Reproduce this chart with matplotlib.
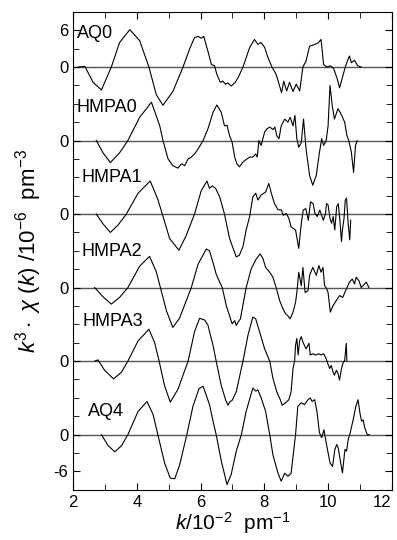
import numpy as np
import matplotlib
matplotlib.use("Agg")
import matplotlib.pyplot as plt
from matplotlib.ticker import MultipleLocator, FixedLocator

# series names and vertical offsets (in units of 10^-6 pm^-3)
names = ["AQ0", "HMPA0", "HMPA1", "HMPA2", "HMPA3", "AQ4"]
offsets = [60, 48, 36, 24, 12, 0]

# k (10^-2 pm^-1) and k^3 chi(k)
k_aq0 = [2.16, 2.37, 2.63, 2.89, 3.20, 3.46, 3.78, 4.09, 4.38, 4.61, 4.82, 5.13, 5.45,
         5.66, 5.81, 5.92, 6.02, 6.10, 6.23, 6.34, 6.44, 6.51, 6.62, 6.70, 6.78, 6.86,
         6.96, 7.09, 7.19, 7.33, 7.45, 7.54, 7.69, 7.80, 7.90, 8.01, 8.11, 8.24, 8.37,
         8.48, 8.54, 8.61, 8.70, 8.79, 8.90, 9.00, 9.11, 9.21, 9.31, 9.42, 9.54, 9.68,
         9.78, 9.86, 9.96, 10.07, 10.17, 10.28, 10.36, 10.46, 10.54, 10.62, 10.67,
         10.73, 10.83, 10.93, 11.04]
chi_aq0 = [0, 0.1, -2.5, -3.75, 0, 4.0, 6.1, 4.3, 0, -4.5, -6.25, -4.0, 0,
           3.0, 4.8, 5.0, 4.7, 5.0, 2.6, 0.4, 0.2, -1.2, -2.5, -2.3, -2.8, -2.6,
           -3.1, -2.5, -1.6, 0, 1.8, 3.2, 4.5, 3.7, 4.0, 3.2, 1.6, 0, -1.2,
           -3.1, -4.2, -2.3, -3.9, -2.5, -4.0, -2.8, -3.9, 0, 1.0, 3.4, 3.6, 3.9,
           4.5, 0.4, 0, 0.2, -0.2, -1.8, -3.4, -1.5, 0, 1.2, 1.8,
           0.7, 1.1, 0.2, 0]

k_hmpa0 = [2.73, 2.94, 3.17, 3.46, 3.72, 4.09, 4.46, 4.72, 4.82, 4.98, 5.13, 5.29, 5.40,
           5.50, 5.61, 5.71, 5.81, 5.92, 6.08, 6.23, 6.39, 6.51, 6.65, 6.75, 6.83, 6.91,
           6.99, 7.07, 7.14, 7.22, 7.33, 7.43, 7.54, 7.64, 7.73, 7.78, 7.83, 7.90, 8.01,
           8.08, 8.17, 8.27, 8.33, 8.39, 8.46, 8.53, 8.64, 8.74, 8.81, 8.90, 8.96, 9.02,
           9.08, 9.16, 9.23, 9.31, 9.42, 9.52, 9.63, 9.73, 9.80, 9.86, 9.94, 10.00,
           10.06, 10.13, 10.20, 10.31, 10.41, 10.52, 10.59, 10.65, 10.73, 10.80, 10.86,
           10.91]
chi_hmpa0 = [0, -2.0, -3.6, -2.0, 0, 3.8, 6.25, 2.4, 0, -3.0, -4.1, -4.5, -3.8,
             -4.1, -3.0, -2.7, -2.2, -1.4, 0, 1.9, 4.6, 5.8, 4.6, 2.4, 2.5, 0.8,
             -0.3, -2.7, -3.8, -4.3, -3.5, -3.1, -2.7, -2.7, -2.2, -2.7, 0, -0.8, 1.4,
             1.9, 2.2, 1.8, 2.2, 0.8, 0.3, 2.4, 3.5, 3.0, 3.8, 2.4, 4.1, 0.3,
             -1.1, -0.3, 3.5, -1.4, -5.7, -7.3, -5.7, -1.9, 0.3, -0.8, 0, 2.4,
             9.0, 5.7, 3.5, 5.2, 4.3, 3.0, 0.8, 0, -1.9, -5.2, -0.8,
             0]

k_hmpa1 = [2.73, 2.94, 3.17, 3.41, 3.67, 4.04, 4.42, 4.66, 4.80, 5.03, 5.32, 5.55, 5.81,
           6.02, 6.20, 6.28, 6.37, 6.47, 6.60, 6.75, 6.91, 7.12, 7.22, 7.33, 7.43, 7.54,
           7.64, 7.73, 7.80, 7.90, 8.04, 8.14, 8.22, 8.32, 8.43, 8.53, 8.60, 8.69, 8.77,
           8.84, 8.98, 9.08, 9.16, 9.22, 9.30, 9.38, 9.45, 9.53, 9.59, 9.66, 9.74, 9.85,
           9.92, 9.95, 10.00, 10.06, 10.11, 10.16, 10.21, 10.27, 10.32, 10.37, 10.42,
           10.45, 10.50, 10.54, 10.58, 10.63, 10.68, 10.71]
chi_hmpa1 = [0, -1.6, -3.0, -1.8, 0, 3.4, 5.4, 2.4, 0, -4.0, -5.9, -3.5, 0,
             3.8, 5.4, 4.2, 4.6, 4.2, 2.8, 0, -4.0, -7.0, -6.7, -5.3, -2.6, -0.4,
             2.8, 3.4, 2.3, 3.1, 3.6, 5.0, 3.4, 1.7, 0.7, 0.7, -0.2, 0.1, -0.7,
             -2.1, -2.6, -5.6, -1.5, 0.65, 0.9, -1.0, 2.0, 1.7, 0.1, -0.4, 0.65, -1.0,
             0.1, 1.7, 1.5, -0.7, -1.5, -0.4, -2.6, 1.2, 1.7, -1.0, -4.5,
             -2.6, -0.7, 2.3, 2.6, -1.5, -4.2, -1.0]

k_hmpa2 = [2.68, 2.94, 3.20, 3.46, 3.72, 4.09, 4.40, 4.61, 4.74, 4.93, 5.13, 5.34, 5.71,
           5.92, 6.18, 6.28, 6.39, 6.49, 6.60, 6.68, 6.81, 6.99, 7.07, 7.12, 7.17, 7.25,
           7.43, 7.59, 7.75, 7.87, 7.96, 8.04, 8.17, 8.27, 8.37, 8.48, 8.58, 8.67, 8.74,
           8.81, 8.90, 8.98, 9.02, 9.08, 9.16, 9.21, 9.28, 9.37, 9.42, 9.52, 9.63, 9.71,
           9.78, 9.84, 9.89, 9.94, 10.00, 10.07, 10.15, 10.26, 10.36, 10.46, 10.55,
           10.62, 10.67, 10.76, 10.83, 10.88, 10.97, 11.04, 11.20, 11.28]
chi_hmpa2 = [0, -1.5, -2.7, -1.6, 0, 3.5, 5.1, 2.6, 0, -3.8, -6.5, -5.0, 0,
             3.8, 6.3, 6.0, 4.1, 2.2, 0.9, 0, -3.0, -5.9, -5.4, -6.2, -5.7, -5.1,
             0, 3.1, 4.7, 5.5, 4.7, 3.3, 2.5, 1.7, 0, -2.1, -3.4, -4.3, -4.6,
             -5.1, -4.0, -2.4, -0.8, 2.5, 0.3, 3.3, -0.8, -0.5, 2.0, 3.3, 2.0, 3.6,
             2.5, 3.3, 0.3, 0, -0.8, -4.0, -3.0, -2.1, -1.3, -1.6, -0.5,
             0.3, 0.9, 1.4, 0.6, 1.7, 1.1, 0, 0.9, 0]

k_hmpa3 = [2.68, 2.78, 2.99, 3.27, 3.52, 3.72, 4.04, 4.38, 4.56, 4.70, 4.87, 5.05, 5.29,
           5.61, 5.81, 5.97, 6.13, 6.23, 6.31, 6.39, 6.49, 6.65, 6.79, 6.86, 6.91, 6.99,
           7.12, 7.22, 7.33, 7.49, 7.64, 7.73, 7.85, 8.01, 8.17, 8.27, 8.39, 8.50, 8.56,
           8.69, 8.77, 8.84, 8.90, 8.95, 8.98, 9.02, 9.06, 9.11, 9.16, 9.21, 9.31, 9.40,
           9.44, 9.52, 9.61, 9.71, 9.78, 9.86, 9.94, 9.99, 10.05, 10.10, 10.15, 10.20,
           10.26, 10.31, 10.36, 10.41, 10.46, 10.52, 10.57, 10.59]
chi_hmpa3 = [0, 0.2, -1.5, -2.9, -1.8, 0, 3.3, 5.2, 3.0, 0, -4.0, -6.7, -4.6,
             0, 4.8, 7.0, 6.7, 5.9, 4.2, 2.6, 0, -4.0, -6.4, -7.2, -6.7, -6.4,
             -5.0, -2.6, 0, 4.3, 7.2, 6.9, 4.8, 2.0, 0, -2.8, -5.0, -6.3, -7.2,
             -6.7, -6.3, -5.0, -1.2, 0, 2.6, 3.7, 1.0, 3.4, 4.0, 3.1, 2.0, 2.9,
             1.0, 1.2, 1.0, 1.2, 1.0, 1.2, 0.4, -0.4, -1.2, -0.7, -1.7, -2.3,
             -1.5, -2.0, -3.1, -1.5, -0.4, 0.1, 2.9, 0]

k_aq4 = [2.89, 3.10, 3.31, 3.52, 3.72, 4.04, 4.32, 4.51, 4.66, 4.87, 5.05, 5.19, 5.34,
         5.57, 5.76, 5.95, 6.08, 6.28, 6.39, 6.49, 6.65, 6.83, 6.96, 7.12, 7.28, 7.43,
         7.64, 7.73, 7.80, 7.90, 8.04, 8.17, 8.27, 8.43, 8.53, 8.64, 8.74, 8.84, 8.92,
         8.98, 9.05, 9.16, 9.26, 9.37, 9.44, 9.50, 9.58, 9.65, 9.73, 9.80, 9.87, 9.95,
         10.06, 10.14, 10.21, 10.27, 10.32, 10.37, 10.45, 10.53, 10.58, 10.63, 10.68,
         10.79, 10.87, 10.94, 11.00, 11.05, 11.10, 11.15, 11.23, 11.29]
chi_aq4 = [0, -1.8, -2.8, -1.8, 0, 3.8, 5.4, 3.3, 0, -4.6, -7.1, -7.2, -5.0,
           0, 4.6, 7.5, 7.9, 4.9, 2.2, 0, -4.3, -8.15, -6.5, -2.7, 0, 3.8,
           7.6, 7.1, 7.3, 6.0, 3.8, 0, -3.3, -6.3, -7.6, -6.3, -6.8, -6.3, -2.7,
           0, 4.6, 5.2, 4.9, 5.7, 6.0, 5.4, 5.7, 3.8, 0.3, -0.5, 0.8, -1.6,
           -4.6, -5.2, -2.5, -1.6, -2.2, -3.8, -6.25, -2.4, -2.7, -0.8, 0,
           2.5, 4.6, 5.7, 3.5, 2.2, 2.4, 1.1, 0, 0]

ks = [k_aq0, k_hmpa0, k_hmpa1, k_hmpa2, k_hmpa3, k_aq4]
chis = [chi_aq0, chi_hmpa0, chi_hmpa1, chi_hmpa2, chi_hmpa3, chi_aq4]

# label anchor (k, height above own baseline)
label_k = [2.12, 2.12, 2.25, 2.28, 2.31, 2.47]
label_h = [5.5, 5.4, 5.9, 5.9, 6.4, 3.75]

plt.rcParams['font.family'] = ['Liberation Sans', 'DejaVu Sans']
plt.rcParams['mathtext.fontset'] = 'custom'
plt.rcParams['mathtext.rm'] = 'Liberation Sans'
plt.rcParams['mathtext.it'] = 'Liberation Sans:italic'

fig = plt.figure(figsize=(3.97, 5.40), dpi=100)
ax = fig.add_axes([0.184, 0.093, 0.803, 0.885])

for k, chi, off in zip(ks, chis, offsets):
    ax.axhline(off, color="#555555", lw=1.0, zorder=1)
    ax.plot(k, np.array(chi) + off, color="black", lw=0.8, zorder=2)

for name, lk, lh, off in zip(names, label_k, label_h, offsets):
    ax.text(lk, off + lh, name, fontsize=13, va="center", ha="left")

ax.set_xlim(2, 12)
ax.set_ylim(-9, 69)

ax.xaxis.set_major_locator(MultipleLocator(2))
ax.xaxis.set_minor_locator(MultipleLocator(1))
ax.yaxis.set_major_locator(FixedLocator([-6, 0, 12, 24, 36, 48, 60, 66]))
ax.set_yticklabels(["-6", "0", "0", "0", "0", "0", "0", "6"])
ax.yaxis.set_minor_locator(MultipleLocator(3))
ax.tick_params(which="both", direction="in", top=True, right=True, labelsize=12)
ax.tick_params(which="major", length=5)
ax.tick_params(which="minor", length=4)
for lbl in ax.get_xticklabels():
    if lbl.get_text() == "12":
        lbl.set_horizontalalignment("right")

ax.set_xlabel(r"$k/10^{-2}\ \ \mathrm{pm}^{-1}$", fontsize=15, labelpad=0)
ax.set_ylabel(r"$k^{3}\cdot\ \chi\ (k)\ /10^{-6}\ \ \mathrm{pm}^{-3}$", fontsize=16)
ax.yaxis.set_label_coords(-0.09, 0.5)

fig.savefig("out.png", dpi=100)
